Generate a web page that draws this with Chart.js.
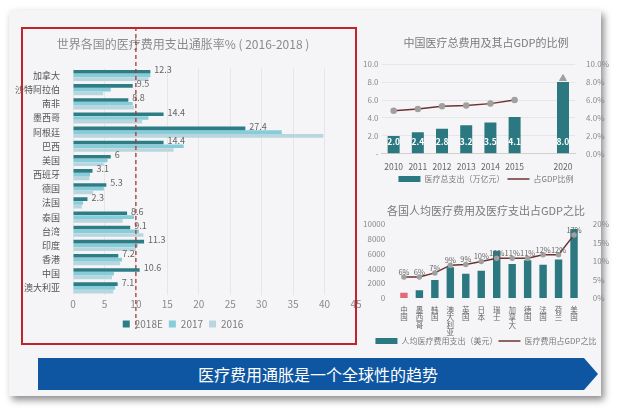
<!DOCTYPE html>
<html>
<head>
<meta charset="utf-8">
<script src="https://cdn.jsdelivr.net/npm/chart.js@4.4.1/dist/chart.umd.min.js"></script>
<style>
  body { margin: 0; width: 640px; height: 409px; background: #ffffff; position: relative; overflow: hidden; font-family: "Noto Sans CJK SC", "Noto Sans", sans-serif; }
  #panel { position: absolute; left: 9px; top: 10px; width: 592px; height: 386px; background: #f5f5f7; box-shadow: 3px 4px 7px rgba(0,0,0,0.45); }
  .box { position: absolute; }
  #redbox { position: absolute; left: 21px; top: 27px; width: 332px; height: 314px; border: 2px solid #c0252b; pointer-events: none; }
  #banner { position: absolute; left: 38px; top: 358px; width: 560px; height: 32px; background: #0e56a2;
            clip-path: polygon(0 0, 97.5% 0, 100% 50%, 97.5% 100%, 0 100%);
            color: #fff; font-size: 16px; line-height: 32px; text-align: center; }
</style>
</head>
<body>
<div id="panel"></div>
<div class="box" style="left:10px;top:27px;width:355px;height:316px"><canvas id="inflChart"></canvas></div>
<div id="redbox"></div>
<div class="box" style="left:360px;top:28px;width:254px;height:165px"><canvas id="chinaChart"></canvas></div>
<div class="box" style="left:360px;top:203px;width:254px;height:152px"><canvas id="capitaChart"></canvas></div>
<div id="banner">医疗费用通胀是一个全球性的趋势</div>

<script>
// 各国医疗费用支出通胀率
const countries = ['加拿大', '沙特阿拉伯', '南非', '墨西哥', '阿根廷', '巴西', '美国', '西班牙', '德国', '法国', '泰国', '台湾', '印度', '香港', '中国', '澳大利亚'];
const rate2018 = [12.3, 9.5, 8.8, 14.4, 27.4, 14.4, 6, 3.1, 5.3, 2.3, 8.6, 9.1, 11.3, 7.2, 10.6, 7.1];
const rate2017 = [12.3, 6.0, 9.5, 12.0, 33.2, 17.6, 5.5, 2.7, 4.9, 1.6, 9.7, 10.5, 10.3, 7.8, 6.5, 6.7];
const rate2016 = [12.0, 4.8, 9.7, 11.0, 39.8, 16.0, 4.9, 2.6, 3.2, 1.4, 7.9, 11.2, 10.0, 7.5, 6.2, 6.4];

// 中国医疗总费用及其占GDP的比例
const years = ['2010', '2011', '2012', '2013', '2014', '2015', '', '2020'];
const totalSpend = [2.0, 2.4, 2.8, 3.2, 3.5, 4.1, null, 8.0];
const gdpShare = [4.8, 5.0, 5.3, 5.4, 5.6, 6.0, null, null];
const gdpShare2020 = [null, null, null, null, null, null, null, 8.4];

// 各国人均医疗费用及医疗支出占GDP之比
const nations = ['中国', '墨西哥', '韩国', '澳大利亚', '英国', '日本', '瑞士', '加拿大', '德国', '法国', '荷兰', '美国'];
const perCapita = [700, 1050, 2450, 4150, 3300, 3700, 6400, 4600, 5100, 4500, 5200, 9350];
const healthGdp = [5.7, 5.7, 6.8, 8.9, 9.1, 9.9, 10.8, 10.8, 10.8, 11.7, 11.7, 17.1];
const healthGdpLabels = ['6%', '6%', '7%', '9%', '9%', '10%', '11%', '11%', '11%', '12%', '12%', '17%'];

const FONT = '"Noto Sans CJK SC", "Noto Sans", sans-serif';
Chart.defaults.font.family = FONT;
Chart.defaults.color = '#7a7a7a';
Chart.defaults.animation = false;

const teal = '#2b7880';
const maroon = '#6e3232';

// 左图：数值标签 + 10% 虚线
const inflPlugin = {
  id: 'inflPlugin',
  afterDatasetsDraw(chart) {
    const ctx = chart.ctx;
    const meta = chart.getDatasetMeta(0);
    ctx.save();
    ctx.font = '9px ' + FONT;
    ctx.fillStyle = '#666';
    ctx.textBaseline = 'middle';
    meta.data.forEach((bar, i) => {
      ctx.fillText(String(rate2018[i]), bar.x + 4, bar.y - 2);
    });
    const x = chart.scales.x.getPixelForValue(10);
    ctx.strokeStyle = '#a33a3a';
    ctx.lineWidth = 1.3;
    ctx.setLineDash([4, 3]);
    ctx.beginPath();
    ctx.moveTo(x, 0);
    ctx.lineTo(x, chart.height - 14);
    ctx.stroke();
    ctx.restore();
  }
};

new Chart(document.getElementById('inflChart'), {
  type: 'bar',
  data: {
    labels: countries,
    datasets: [
      { label: '2018E', data: rate2018, backgroundColor: '#2c7d86' },
      { label: '2017', data: rate2017, backgroundColor: '#86cdd9' },
      { label: '2016', data: rate2016, backgroundColor: '#b9d6de' }
    ]
  },
  options: {
    indexAxis: 'y',
    responsive: true,
    maintainAspectRatio: false,
    layout: { padding: { left: 0, right: 9, top: 0, bottom: 4 } },
    datasets: { bar: { categoryPercentage: 0.8, barPercentage: 0.95 } },
    scales: {
      x: {
        min: 0, max: 45,
        ticks: { stepSize: 5, font: { size: 10 }, color: '#8a8a8a' },
        grid: { color: '#e6e6e8', drawTicks: false },
        border: { display: false }
      },
      y: {
        ticks: { font: { size: 9 }, color: '#555', padding: 5 },
        grid: { display: false },
        border: { display: false }
      }
    },
    plugins: {
      title: { display: true, text: '世界各国的医疗费用支出通胀率% ( 2016-2018 )', font: { size: 12, weight: 'normal' }, color: '#8a8a8a', padding: { top: 10, bottom: 17 } },
      legend: { position: 'bottom', labels: { boxWidth: 7, boxHeight: 7, font: { size: 10 }, color: '#7a7a7a', padding: 6 } },
      tooltip: { enabled: false }
    }
  },
  plugins: [inflPlugin]
});

// 右上图：柱内白色标签
const chinaPlugin = {
  id: 'chinaPlugin',
  afterDatasetsDraw(chart) {
    const ctx = chart.ctx;
    const meta = chart.getDatasetMeta(2);
    const base = chart.scales.y.getPixelForValue(0);
    ctx.save();
    ctx.font = 'bold 8.5px ' + FONT;
    ctx.fillStyle = '#ffffff';
    ctx.textAlign = 'center';
    ctx.textBaseline = 'middle';
    meta.data.forEach((bar, i) => {
      if (totalSpend[i] == null) return;
      ctx.fillText(totalSpend[i].toFixed(1), bar.x, base - 12);
    });
    ctx.restore();
  }
};

new Chart(document.getElementById('chinaChart'), {
  data: {
    labels: years,
    datasets: [
      { type: 'line', label: '占GDP比例', data: gdpShare, yAxisID: 'y1', borderColor: maroon, borderWidth: 1.5,
        pointBackgroundColor: '#a0a0a0', pointBorderColor: '#a0a0a0', pointRadius: 2.5, order: 0 },
      { type: 'line', label: '2020', data: gdpShare2020, yAxisID: 'y1', showLine: false, pointStyle: 'triangle',
        pointBackgroundColor: '#a0a0a0', pointBorderColor: '#a0a0a0', pointRadius: 4, order: 0 },
      { type: 'bar', label: '医疗总支出（万亿元）', data: totalSpend, yAxisID: 'y', backgroundColor: teal,
        categoryPercentage: 0.8, barPercentage: 0.62, order: 1 }
    ]
  },
  options: {
    responsive: true,
    maintainAspectRatio: false,
    layout: { padding: { left: 0, right: 2, top: 0, bottom: 0 } },
    scales: {
      x: { ticks: { font: { size: 8.5 }, color: '#666', padding: 0, maxRotation: 0, autoSkip: false }, grid: { display: false }, border: { color: '#d0d0d0' } },
      y: {
        position: 'left', min: 0, max: 10,
        ticks: { stepSize: 2, font: { size: 8 }, color: '#8a8a8a', callback: v => v === 0 ? '-' : v.toFixed(1) },
        grid: { color: '#e6e6e8', drawTicks: false }, border: { display: false }
      },
      y1: {
        position: 'right', min: 0, max: 10,
        ticks: { stepSize: 2, font: { size: 8 }, color: '#8a8a8a', callback: v => v.toFixed(1) + '%' },
        grid: { display: false }, border: { display: false }
      }
    },
    plugins: {
      title: { display: true, text: '中国医疗总费用及其占GDP的比例', font: { size: 11, weight: 'normal' }, color: '#7a7a7a', padding: { top: 8, bottom: 15 } },
      legend: {
        position: 'bottom',
        labels: {
          font: { size: 8 }, color: '#7a7a7a', usePointStyle: true, pointStyleWidth: 22, boxHeight: 6, padding: 3,
          generateLabels: chart => [
            { text: '医疗总支出（万亿元）', datasetIndex: 2, pointStyle: 'rect', fillStyle: teal, strokeStyle: teal, lineWidth: 0, fontColor: '#7a7a7a' },
            { text: '占GDP比例', datasetIndex: 0, pointStyle: 'line', fillStyle: maroon, strokeStyle: maroon, lineWidth: 1.5, fontColor: '#7a7a7a' }
          ]
        }
      },
      tooltip: { enabled: false }
    }
  },
  plugins: [chinaPlugin]
});

// 右下图：折线百分比标签
const capitaPlugin = {
  id: 'capitaPlugin',
  afterDatasetsDraw(chart) {
    const ctx = chart.ctx;
    const meta = chart.getDatasetMeta(0);
    ctx.save();
    ctx.font = '7.5px ' + FONT;
    ctx.fillStyle = '#666';
    ctx.textAlign = 'center';
    meta.data.forEach((pt, i) => {
      ctx.fillText(healthGdpLabels[i], pt.x, pt.y - 5);
    });
    ctx.restore();
  }
};

new Chart(document.getElementById('capitaChart'), {
  data: {
    labels: nations.map(n => n.split('')),
    datasets: [
      { type: 'line', label: '医疗费用占GDP之比', data: healthGdp, yAxisID: 'y1', borderColor: maroon, borderWidth: 1.5,
        pointBackgroundColor: '#a0a0a0', pointBorderColor: '#a0a0a0', pointRadius: 2, order: 0 },
      { type: 'bar', label: '人均医疗费用支出（美元）', data: perCapita, yAxisID: 'y',
        backgroundColor: perCapita.map((v, i) => i === 0 ? '#e06a78' : teal),
        categoryPercentage: 0.8, barPercentage: 0.6, order: 1 }
    ]
  },
  options: {
    responsive: true,
    maintainAspectRatio: false,
    layout: { padding: { left: 0, right: 2, top: 0, bottom: 0 } },
    scales: {
      x: { ticks: { font: { size: 7.5, lineHeight: 1.0 }, color: '#666', padding: 0, maxRotation: 0, autoSkip: false }, grid: { display: false }, border: { display: false } },
      y: {
        position: 'left', min: 0, max: 10000,
        ticks: { stepSize: 2000, autoSkip: false, font: { size: 8 }, color: '#8a8a8a', callback: v => String(v) },
        grid: { display: false }, border: { display: false }
      },
      y1: {
        position: 'right', min: 0, max: 20,
        ticks: { stepSize: 5, autoSkip: false, font: { size: 8 }, color: '#8a8a8a', callback: v => v + '%' },
        grid: { display: false }, border: { display: false }
      }
    },
    plugins: {
      title: { display: true, text: '各国人均医疗费用及医疗支出占GDP之比', font: { size: 11, weight: 'normal' }, color: '#7a7a7a', padding: { top: 1, bottom: 7 } },
      legend: {
        position: 'bottom',
        labels: {
          font: { size: 8 }, color: '#7a7a7a', usePointStyle: true, pointStyleWidth: 22, boxHeight: 6, padding: 1,
          generateLabels: chart => [
            { text: '人均医疗费用支出（美元）', datasetIndex: 1, pointStyle: 'rect', fillStyle: teal, strokeStyle: teal, lineWidth: 0, fontColor: '#7a7a7a' },
            { text: '医疗费用占GDP之比', datasetIndex: 0, pointStyle: 'line', fillStyle: maroon, strokeStyle: maroon, lineWidth: 1.5, fontColor: '#7a7a7a' }
          ]
        }
      },
      tooltip: { enabled: false }
    }
  },
  plugins: [capitaPlugin]
});
</script>
</body>
</html>
